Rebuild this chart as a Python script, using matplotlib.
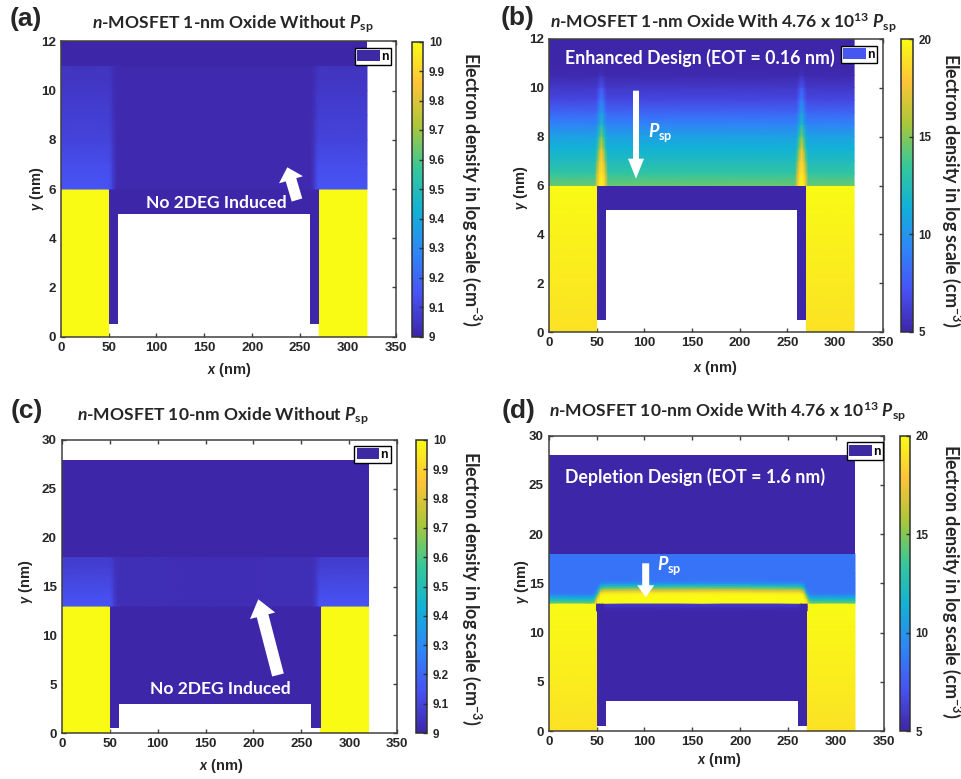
#!/usr/bin/env python3
"""
Electron density maps of n-MOSFET devices, with and without polarization.
"""
import numpy as np
import matplotlib
matplotlib.use('Agg')
import matplotlib.pyplot as plt
from matplotlib.cm import ScalarMappable
from matplotlib.colors import LinearSegmentedColormap, Normalize
from matplotlib.patches import Patch

plt.rcParams['mathtext.fontset'] = 'custom'
plt.rcParams['mathtext.rm'] = 'Lato:bold'
plt.rcParams['mathtext.it'] = 'Lato:italic:bold'
plt.rcParams['mathtext.bf'] = 'Lato:bold'
plt.rcParams['mathtext.default'] = 'rm'

W, H = 962, 779
TXT = '#262626'

# colour stops of the colormap in the figure
parula = LinearSegmentedColormap.from_list('parula', [
    (0.2422, 0.1504, 0.6603), (0.2810, 0.3228, 0.9579),
    (0.1786, 0.5289, 0.9682), (0.0689, 0.6948, 0.8394),
    (0.2161, 0.7843, 0.5923), (0.6720, 0.7793, 0.2227),
    (0.9970, 0.7659, 0.2199), (0.9769, 0.9839, 0.0805)])

x_ticks = [0, 50, 100, 150, 200, 250, 300, 350]
y_ticks_thin = [0, 2, 4, 6, 8, 10, 12]
y_ticks_thick = [0, 5, 10, 15, 20, 25, 30]
cb_ticks_low = [9, 9.1, 9.2, 9.3, 9.4, 9.5, 9.6, 9.7, 9.8, 9.9, 10]
cb_ticks_high = [5, 10, 15, 20]

# (a) channel layer, value per y for columns at x_half_a
y_a = [6, 7, 8, 9, 10, 11]
x_half_a = [0, 50, 52, 55, 59, 160]
col_a = [[9.145, 9.125, 9.095, 9.08, 9.06, 9.045],
         [9.145, 9.125, 9.095, 9.08, 9.06, 9.045],
         [9.135, 9.115, 9.085, 9.07, 9.055, 9.04],
         [9.07, 9.06, 9.05, 9.04, 9.03, 9.025],
         [9.015, 9.015, 9.015, 9.015, 9.015, 9.015],
         [9.012, 9.012, 9.012, 9.012, 9.012, 9.012]]

# (c) channel layer
y_c = [13, 14, 15, 16, 17, 18]
x_half_c = [0, 50, 52, 55, 59, 160]
col_c = [[9.145, 9.13, 9.115, 9.10, 9.085, 9.07],
         [9.145, 9.13, 9.115, 9.10, 9.085, 9.07],
         [9.13, 9.115, 9.10, 9.09, 9.075, 9.06],
         [9.07, 9.065, 9.06, 9.055, 9.05, 9.04],
         [9.03, 9.03, 9.03, 9.03, 9.03, 9.03],
         [9.025, 9.025, 9.025, 9.025, 9.025, 9.025]]

# (b) channel layer, with the two bright flames near the contact corners
y_b = [6, 6.5, 7, 7.5, 8, 8.5, 9, 9.5, 10, 10.5, 11, 12]
x_half_b = [0, 48, 50.5, 53, 55, 57, 59.5, 62, 160]
bg_b = [14.5, 13.2, 12.3, 11.5, 10.6, 9.2, 7.9, 6.6, 5.9, 5.2, 5.0, 5.0]
edge_b = [17.5, 16.5, 14.5, 12.8, 11.6, 9.8, 8.4, 7.0, 6.2, 5.2, 5.0, 5.0]
shoulder_b = [19.5, 18.5, 17.5, 15.5, 13.5, 11.0, 9.6, 8.2, 6.9, 5.4, 5.0, 5.0]
peak_b = [20, 19.3, 18.5, 17.5, 15.0, 12.5, 10.5, 9.0, 7.5, 5.6, 5.0, 5.0]

# (d) channel layer, the 2DEG sheet sits above the gate stack
y_d = [13, 13.25, 13.5, 13.75, 14, 14.25, 14.5, 14.75, 15, 15.25, 15.5, 16, 18]
x_half_d = [0, 44, 47, 49, 51, 54, 58, 160]
col_d = [[14.5, 13, 11.5, 9.8, 8.8, 8.5, 8.5, 8.5, 8.5, 8.5, 8.5, 8.5, 8.5],
         [14.5, 13, 11.5, 9.8, 8.8, 8.5, 8.5, 8.5, 8.5, 8.5, 8.5, 8.5, 8.5],
         [15, 13.5, 12, 10.2, 9, 8.6, 8.5, 8.5, 8.5, 8.5, 8.5, 8.5, 8.5],
         [18, 16, 14, 12, 10, 9, 8.6, 8.5, 8.5, 8.5, 8.5, 8.5, 8.5],
         [20, 19.5, 18, 15.5, 12.8, 10.5, 9.2, 8.6, 8.5, 8.5, 8.5, 8.5, 8.5],
         [20, 20, 20, 19.8, 18.5, 15.8, 13.3, 11, 9.4, 8.6, 8.5, 8.5, 8.5],
         [20, 20, 20, 20, 19.3, 17, 14.5, 12, 9.7, 8.7, 8.5, 8.5, 8.5],
         [20, 20, 20, 20, 19.6, 17.5, 15, 12.5, 10, 8.7, 8.5, 8.5, 8.5]]

# (d) weak accumulation under the top of the oxide
y_d_ox = [12.2, 12.6, 13]
x_half_d_ox = [50, 56, 60, 160]
col_d_ox = [[5.0, 5.0, 5.0], [5.0, 5.0, 5.0], [5.0, 5.5, 6.2], [5.0, 5.5, 6.2]]

# contact values, bottom to top
y_contact_thin = [0, 2, 4, 6]
y_contact_thick = [0, 4, 8, 13]
contact_high = [19.0, 19.3, 19.6, 20]


def mirror(x_half, cols):
    """Picture is symmetric about x = 160 nm, so repeat the left half."""
    x = list(x_half) + [320 - v for v in x_half[-2::-1]]
    c = list(cols) + list(cols[-2::-1])
    return x, np.array(c).T


def px(x, y):
    return x / W, 1 - y / H


def px_axes(fig, l, t, r, b):
    return fig.add_axes([l / W, 1 - b / H, (r - l) / W, (b - t) / H])


def fill(ax, x, y, value, norm):
    ax.pcolormesh(x, y, np.full((1, 1), value), cmap=parula, norm=norm, lw=0)


def smooth(ax, x, y, z, norm):
    ax.pcolormesh(x, y, z, cmap=parula, norm=norm, shading='gouraud')


def device(ax, norm, low, y_top, y_ox_bot, y_leg, contact_y, contact_z):
    """Contacts and the oxide that wraps the gate."""
    for x0, x1 in [(0, 50), (270, 320)]:
        z = np.column_stack([contact_z, contact_z])
        smooth(ax, [x0, x1], contact_y, z, norm)
    fill(ax, [50, 270], [y_ox_bot, y_top], low, norm)
    fill(ax, [50, 60], [y_leg, y_ox_bot], low, norm)
    fill(ax, [260, 270], [y_leg, y_ox_bot], low, norm)


def finish(ax, yticks, ymax):
    ax.set_xlim(0, 350)
    ax.set_ylim(0, ymax)
    ax.set_xticks(x_ticks)
    ax.set_yticks(yticks)
    ax.set_axisbelow(True)
    ax.tick_params(direction='in', length=3, width=1, top=True, right=True,
                   color='#404040', labelcolor=TXT, pad=3.5)
    for lab in ax.get_xticklabels() + ax.get_yticklabels():
        lab.set_fontfamily('Liberation Sans')
        lab.set_fontweight('bold')
        lab.set_fontsize(9.6)
    for s in ax.spines.values():
        s.set_color('#404040')
        s.set_linewidth(1.1)


def colorbar(fig, box, norm, ticks):
    cax = px_axes(fig, *box)
    cb = fig.colorbar(ScalarMappable(norm=norm, cmap=parula), cax=cax)
    cb.set_ticks(ticks)
    cb.set_ticklabels([f'{t:g}' for t in ticks])
    cax.tick_params(direction='in', length=3, width=1, color='#303030',
                    labelcolor=TXT, pad=4)
    for lab in cax.get_yticklabels():
        lab.set_fontfamily('Liberation Sans')
        lab.set_fontweight('bold')
        lab.set_fontsize(8.4)
    cb.outline.set_edgecolor('#303030')
    cb.outline.set_linewidth(1.1)


def legend_box(ax, fig, x, y, color):
    ax.legend(handles=[Patch(fc=color, ec='none', label='n')],
              loc='upper left', bbox_to_anchor=px(x, y),
              bbox_transform=fig.transFigure, fancybox=False, framealpha=1,
              edgecolor='black', borderpad=0.2, borderaxespad=0,
              handlelength=1.85, handleheight=1.05, handletextpad=0.1,
              prop={'family': 'Liberation Sans', 'weight': 'bold', 'size': 8.8})


def arrow(ax, fig, base, tip, body, head_w, head_l):
    # sizes in pixels, 100 dpi
    k = 72 / fig.dpi
    ax.annotate('', xy=px(*tip), xytext=px(*base), xycoords='figure fraction',
                textcoords='figure fraction',
                arrowprops=dict(width=body * k, headwidth=head_w * k,
                                headlength=head_l * k, shrink=0,
                                facecolor='white', edgecolor='none', lw=0))


def labels(fig, letter, title, xlab, ylab, cblab):
    fig.text(*px(*letter[:2]), letter[2], ha='left', va='center', color=TXT,
             family='Liberation Sans', weight='bold', fontsize=19)
    fig.text(*px(*title[:2]), title[2], ha='center', va='center', color=TXT,
             family='Lato', weight='bold', fontsize=title[3])
    fig.text(*px(*xlab), r'$\mathit{x}$ (nm)', ha='center', va='center',
             color=TXT, family='Liberation Sans', weight='bold', fontsize=10.5)
    fig.text(*px(*ylab), r'$\mathit{y}$ (nm)', ha='center', va='center',
             rotation=90, color=TXT, family='Liberation Sans', weight='bold',
             fontsize=10.5)
    fig.text(*px(*cblab), r'Electron density in log scale (cm$^{-3}$)',
             ha='center', va='center', rotation=270, color=TXT, family='Lato',
             weight='bold', fontsize=12.9)


def note(fig, x, y, s, size, ha='left'):
    fig.text(*px(x, y), s, ha=ha, va='center', color='white', family='Lato',
             weight='bold', fontsize=size, zorder=10)


fig = plt.figure(figsize=(W / 100, H / 100), dpi=100)
norm_low = Normalize(9, 10)
norm_high = Normalize(5, 20)

# (a)
ax = px_axes(fig, 60.7, 41.3, 395.7, 336.7)
device(ax, norm_low, 9, 6, 5, 0.5, y_contact_thin, [10, 10, 10, 10])
x, z = mirror(x_half_a, col_a)
smooth(ax, x, y_a, z, norm_low)
fill(ax, [0, 320], [11, 12], 9.0, norm_low)
finish(ax, y_ticks_thin, 12)
legend_box(ax, fig, 355, 47.7, '#3d2aa3')
colorbar(fig, (412, 41.5, 423.3, 336.5), norm_low, cb_ticks_low)
labels(fig, (10, 19, '(a)'),
       (232.5, 24, r'$\mathit{n}$-MOSFET 1-nm Oxide Without $\mathit{P}_{\mathrm{sp}}$', 12.6),
       (229, 370), (36.7, 189), (471.7, 189))
arrow(ax, fig, (297, 200), (287.3, 167.3), 11, 25, 13)
note(fig, 216, 202.7, 'No 2DEG Induced', 12.6, ha='center')

# (b)
ax = px_axes(fig, 549, 38.7, 882.7, 332.3)
device(ax, norm_high, 5, 6, 5, 0.5, y_contact_thin, contact_high)
x, z = mirror(x_half_b, [bg_b, bg_b, edge_b, shoulder_b, peak_b, shoulder_b,
                         edge_b, bg_b, bg_b])
smooth(ax, x, y_b, z, norm_high)
finish(ax, y_ticks_thin, 12)
legend_box(ax, fig, 840.7, 45.7, '#4656ee')
colorbar(fig, (901, 39.3, 912.7, 331.7), norm_high, cb_ticks_high)
labels(fig, (500.7, 18, '(b)'),
       (723.5, 23, r'$\mathit{n}$-MOSFET 1-nm Oxide With 4.76 x 10$^{13}$ $\mathit{P}_{\mathrm{sp}}$', 12.6),
       (715.7, 368), (520.7, 188), (951.7, 190))
arrow(ax, fig, (636, 90.7), (636, 178.7), 6, 16, 20)
note(fig, 565, 57.7, 'Enhanced Design (EOT = 0.16 nm)', 12.8)
note(fig, 647.7, 132.7, r'$\mathit{P}_{\mathrm{sp}}$', 13)

# (c)
ax = px_axes(fig, 61.7, 440, 397.3, 733)
device(ax, norm_low, 9, 13, 3, 0.5, y_contact_thick, [10, 10, 10, 10])
x, z = mirror(x_half_c, col_c)
smooth(ax, x, y_c, z, norm_low)
fill(ax, [0, 320], [18, 28], 9.0, norm_low)
finish(ax, y_ticks_thick, 30)
legend_box(ax, fig, 354.3, 445.7, '#3d2aa3')
colorbar(fig, (416, 440, 427.3, 733), norm_low, cb_ticks_low)
labels(fig, (11, 410.7, '(c)'),
       (222.5, 416, r'$\mathit{n}$-MOSFET 10-nm Oxide Without $\mathit{P}_{\mathrm{sp}}$', 12.6),
       (221.7, 766), (26, 582), (471.7, 588))
arrow(ax, fig, (278, 675), (258.3, 599.3), 12, 26, 17)
note(fig, 220.5, 689, 'No 2DEG Induced', 12.6, ha='center')

# (d)
ax = px_axes(fig, 548.7, 435.7, 883.7, 731)
device(ax, norm_high, 5, 13, 3, 0.5, y_contact_thick, contact_high)
x, z = mirror(x_half_d_ox, col_d_ox)
smooth(ax, x, y_d_ox, z, norm_high)
x, z = mirror(x_half_d, col_d)
smooth(ax, x, y_d, z, norm_high)
fill(ax, [0, 320], [18, 28], 5, norm_high)
finish(ax, y_ticks_thick, 30)
legend_box(ax, fig, 846.7, 442.3, '#3d2aa3')
colorbar(fig, (900, 436, 910, 731), norm_high, cb_ticks_high)
labels(fig, (501.7, 410.7, '(d)'),
       (727.5, 412.7, r'$\mathit{n}$-MOSFET 10-nm Oxide With 4.76 x 10$^{13}$ $\mathit{P}_{\mathrm{sp}}$', 12.6),
       (719.3, 760), (521.8, 582), (951.7, 581))
arrow(ax, fig, (645.7, 563.3), (645.7, 597.3), 7, 17, 12)
note(fig, 565, 476.7, 'Depletion Design (EOT = 1.6 nm)', 12.8)
note(fig, 656.7, 565.7, r'$\mathit{P}_{\mathrm{sp}}$', 13)

fig.savefig('out.png', dpi=100)
